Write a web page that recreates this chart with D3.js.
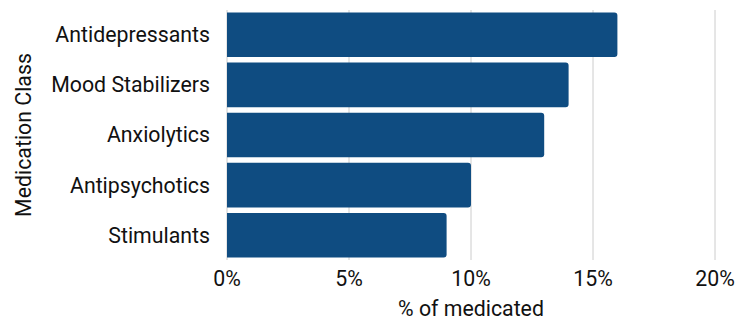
<!DOCTYPE html>
<html>
<head>
<meta charset="utf-8">
<script src="https://cdn.jsdelivr.net/npm/d3@7"></script>
<style>
  body { margin: 0; background: #fff; }
  svg text { font-family: Roboto, "Noto Sans", sans-serif; fill: #111; }
</style>
</head>
<body>
<div id="chart"></div>
<script>
// data
var classes = ["Antidepressants", "Mood Stabilizers", "Anxiolytics", "Antipsychotics", "Stimulants"];
var pct_values = [16, 14, 13, 10, 9];
var x_ticks = [0, 5, 10, 15, 20];

var width = 749, height = 323;
var margin = {top: 10, right: 34, bottom: 63, left: 227};
var font_size = "21.3px";

var svg = d3.select("#chart").append("svg")
    .attr("width", width)
    .attr("height", height);

var x_scale = d3.scaleLinear()
    .domain([0, 20])
    .range([margin.left, width - margin.right]);

var y_scale = d3.scaleBand()
    .domain(classes)
    .range([margin.top, height - margin.bottom])
    .paddingInner(0.11)
    .paddingOuter(0.05);

// grid lines
svg.append("g").selectAll("line")
    .data(x_ticks).enter()
    .append("line")
    .attr("x1", function(d){ return x_scale(d) })
    .attr("x2", function(d){ return x_scale(d) })
    .attr("y1", margin.top)
    .attr("y2", height - margin.bottom)
    .style("stroke", "#cccccc")
    .style("stroke-width", 1);

// bars, only the right end rounded
function bar_path(d, i){
  var x0 = x_scale(0), x1 = x_scale(d), y0 = y_scale(classes[i]), h = y_scale.bandwidth(), r = 3;
  var p = d3.path();
  p.moveTo(x0, y0);
  p.lineTo(x1 - r, y0);
  p.arcTo(x1, y0, x1, y0 + r, r);
  p.lineTo(x1, y0 + h - r);
  p.arcTo(x1, y0 + h, x1 - r, y0 + h, r);
  p.lineTo(x0, y0 + h);
  p.closePath();
  return p.toString();
}

svg.append("g").selectAll("path")
    .data(pct_values).enter()
    .append("path")
    .attr("d", bar_path)
    .style("fill", "#0f4c81");

// y labels
svg.append("g").selectAll("text")
    .data(classes).enter()
    .append("text")
    .attr("x", margin.left - 17)
    .attr("y", function(d){ return y_scale(d) + y_scale.bandwidth()/2 })
    .attr("dy", "0.35em")
    .attr("text-anchor", "end")
    .style("font-size", font_size)
    .text(function(d){ return d });

// x tick labels
svg.append("g").selectAll("text")
    .data(x_ticks).enter()
    .append("text")
    .attr("x", function(d){ return x_scale(d) })
    .attr("y", 286)
    .attr("text-anchor", "middle")
    .style("font-size", font_size)
    .text(function(d){ return d + "%" });

// axis titles
svg.append("text")
    .attr("x", x_scale(10))
    .attr("y", 316)
    .attr("text-anchor", "middle")
    .style("font-size", font_size)
    .text("% of medicated");

svg.append("text")
    .attr("transform", "translate(31," + ((margin.top + height - margin.bottom)/2) + ") rotate(-90)")
    .attr("text-anchor", "middle")
    .style("font-size", font_size)
    .text("Medication Class");
</script>
</body>
</html>
